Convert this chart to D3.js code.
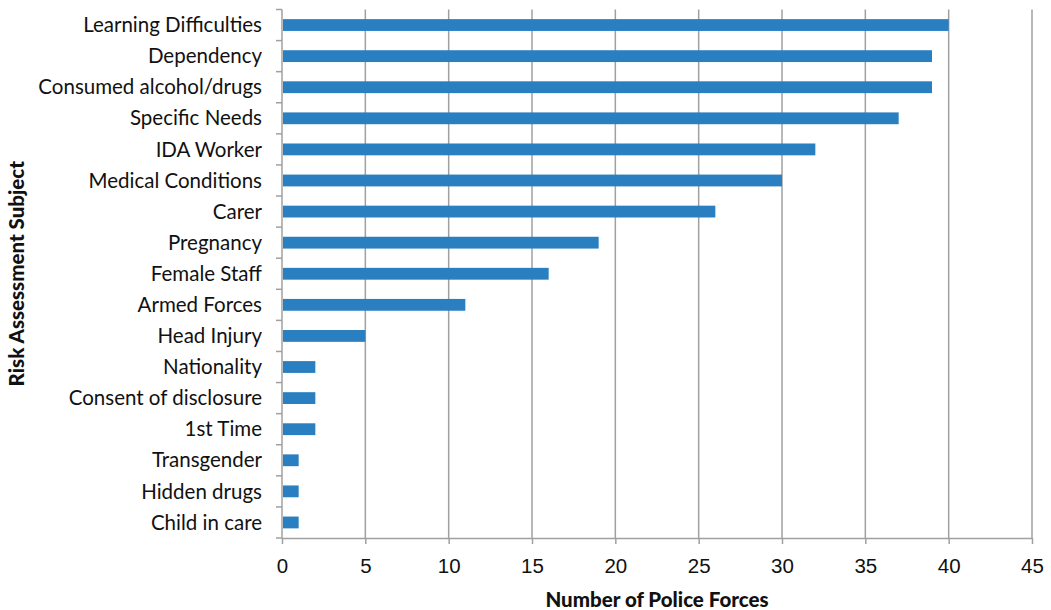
<!DOCTYPE html>
<meta charset="utf-8">
<style>
body { margin: 0; background: #fff; }
svg { font-family: Lato, "Open Sans", sans-serif; }
.bar { fill: #2a7fc0; }
.grid line { stroke: #a0a0a0; stroke-width: 1.5px; }
.axis path, .axis line { stroke: #a0a0a0; stroke-width: 1.5px; }
.axis text { fill: #111; font-size: 20.5px; }
.title { font-weight: 900; font-size: 20.5px; fill: #111; }
</style>
<svg width="1051" height="610"></svg>
<script src="https://d3js.org/d3.v7.min.js"></script>
<script>

var categories = ["Learning Difficulties", "Dependency", "Consumed alcohol/drugs", "Specific Needs",
  "IDA Worker", "Medical Conditions", "Carer", "Pregnancy", "Female Staff", "Armed Forces",
  "Head Injury", "Nationality", "Consent of disclosure", "1st Time", "Transgender",
  "Hidden drugs", "Child in care"];
var values = [40, 39, 39, 37, 32, 30, 26, 19, 16, 11, 5, 2, 2, 2, 1, 1, 1];
var xTicks = [0, 5, 10, 15, 20, 25, 30, 35, 40, 45];

var svg = d3.select("svg"),
    margin = {top: 9.5, right: 19, bottom: 72, left: 282},
    width = +svg.attr("width") - margin.left - margin.right,
    height = +svg.attr("height") - margin.top - margin.bottom;

var data = categories.map(function(c, i) { return {name: c, value: values[i]}; });

var x = d3.scaleLinear().domain([0, 45]).range([0, width]),
    y = d3.scaleBand().domain(categories).range([0, height]).paddingInner(0.62).paddingOuter(0.31);

var g = svg.append("g")
    .attr("transform", "translate(" + margin.left + "," + margin.top + ")");

// vertical gridlines
g.append("g").attr("class", "grid")
  .selectAll("line")
  .data(xTicks.slice(1))
  .enter().append("line")
    .attr("x1", function(d) { return x(d); })
    .attr("x2", function(d) { return x(d); })
    .attr("y1", 0)
    .attr("y2", height);

// x axis
g.append("g")
    .attr("class", "axis")
    .attr("transform", "translate(0," + height + ")")
    .call(d3.axisBottom(x).tickValues(xTicks).tickSize(6).tickSizeOuter(0).tickPadding(14));

// y axis, ticks sit on the band edges
var edges = d3.range(categories.length + 1).map(function(i) { return i * height / categories.length; });
var yAxis = g.append("g").attr("class", "axis");
yAxis.append("line").attr("x1", 0).attr("x2", 0).attr("y1", 0).attr("y2", height);
yAxis.selectAll(".edge")
  .data(edges)
  .enter().append("line")
    .attr("class", "edge")
    .attr("x1", -6).attr("x2", 0)
    .attr("y1", function(d) { return d; })
    .attr("y2", function(d) { return d; });
yAxis.selectAll("text")
  .data(categories)
  .enter().append("text")
    .attr("x", -20)
    .attr("y", function(d) { return y(d) + y.bandwidth() / 2; })
    .attr("dy", "0.35em")
    .attr("text-anchor", "end")
    .text(function(d) { return d; });

g.selectAll(".bar")
  .data(data)
  .enter().append("rect")
    .attr("class", "bar")
    .attr("x", 1)
    .attr("y", function(d) { return y(d.name); })
    .attr("width", function(d) { return x(d.value) - 1; })
    .attr("height", y.bandwidth());

// axis titles
svg.append("text")
    .attr("class", "title")
    .attr("x", margin.left + width / 2)
    .attr("y", 607)
    .attr("text-anchor", "middle")
    .text("Number of Police Forces");

svg.append("text")
    .attr("class", "title")
    .attr("transform", "translate(24," + (margin.top + height / 2) + ") rotate(-90)")
    .attr("text-anchor", "middle")
    .text("Risk Assessment Subject");

</script>
